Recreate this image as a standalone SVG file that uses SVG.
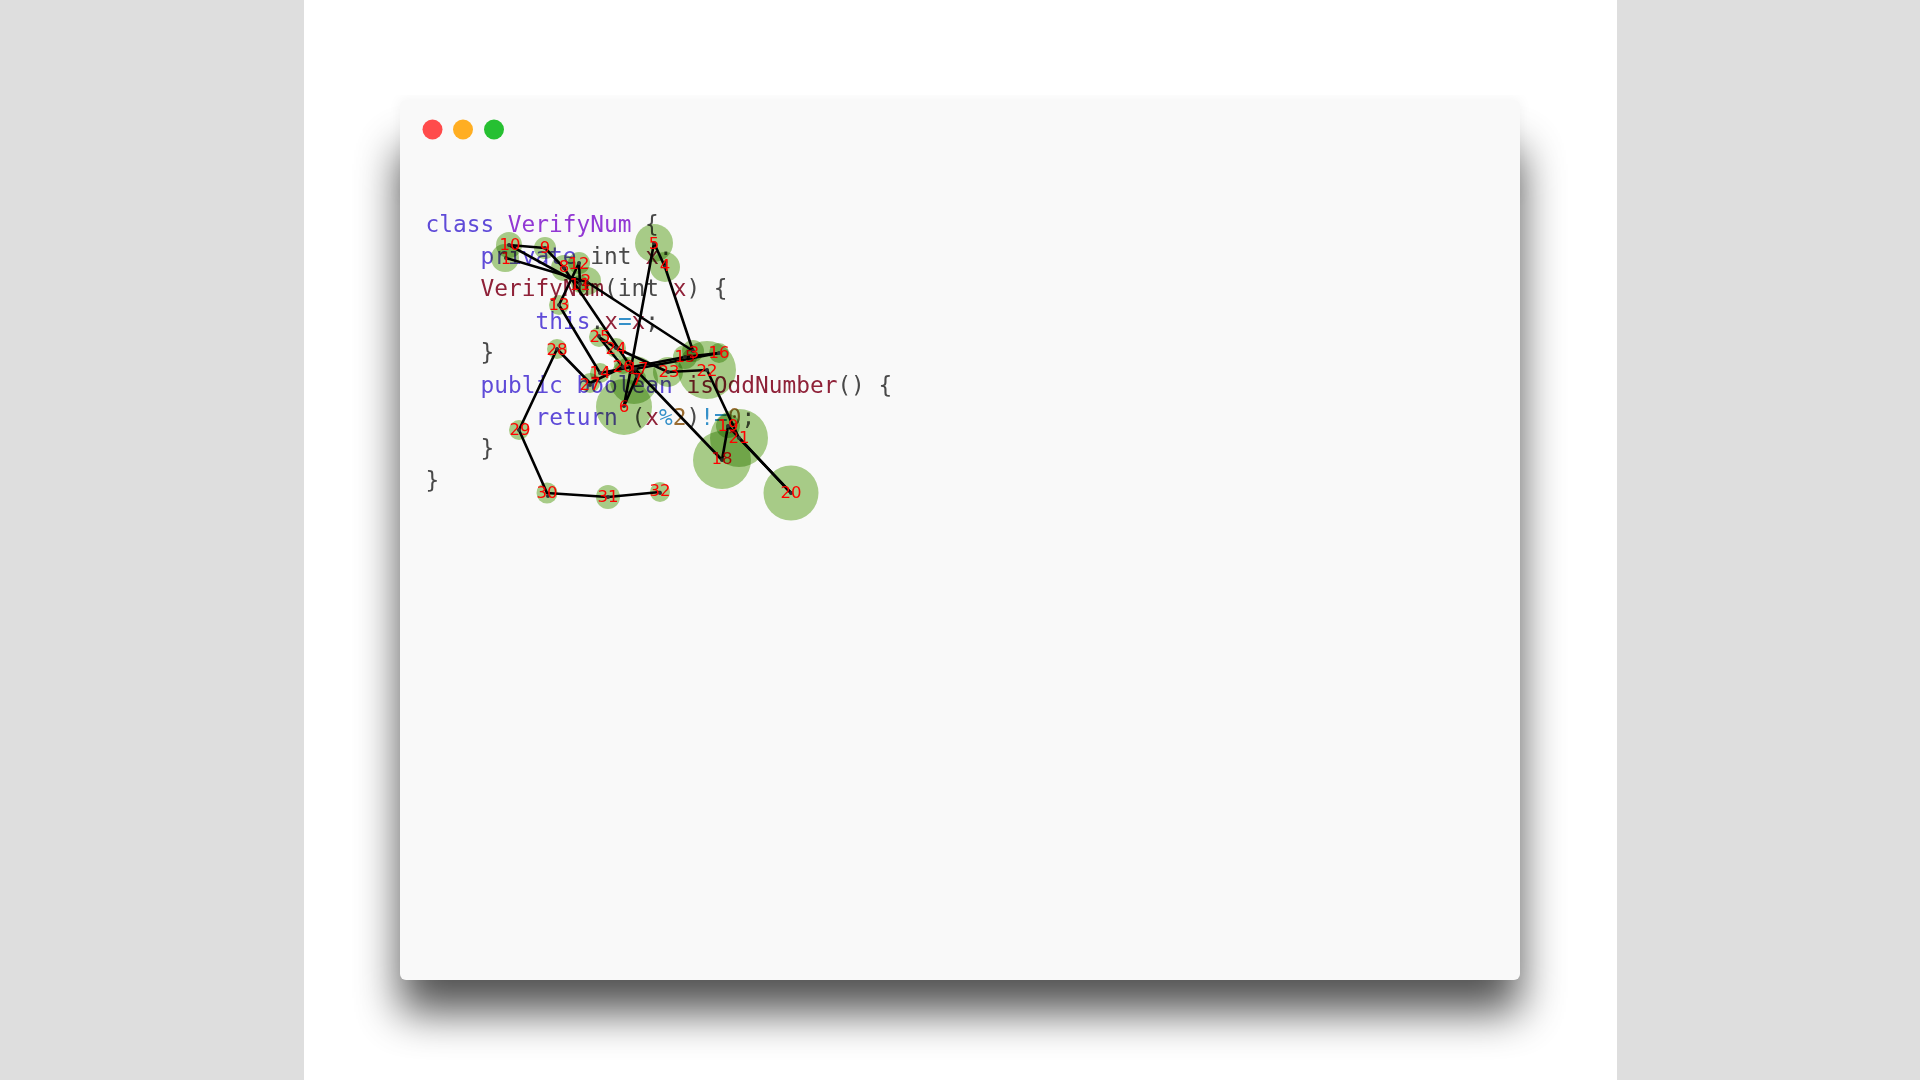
<svg xmlns="http://www.w3.org/2000/svg" width="1920" height="1080" viewBox="0 0 1920 1080">
<style>
.code{font-family:"DejaVu Sans Mono","Liberation Mono",monospace;font-size:22.8px;fill:#484848;white-space:pre}
.k{fill:#5f4bd8}.c{fill:#9238d4}.f{fill:#8f2038}.o{fill:#3490c9}.n{fill:#9a6c30}
.disc{fill:#abd08a;mix-blend-mode:multiply}
.dot{fill:#333}
.lab{font-family:"DejaVu Sans","Liberation Sans",sans-serif;font-size:16.5px;fill:#ff0000;text-anchor:middle}
#connectors line{stroke:#000;stroke-width:2.6;stroke-linecap:round}
</style>
<defs>
<filter id="sh" x="-20%" y="-20%" width="140%" height="140%"><feGaussianBlur stdDeviation="22"/></filter>
<filter id="halo" x="-5%" y="-5%" width="110%" height="110%"><feGaussianBlur stdDeviation="7"/></filter>
<filter id="soft" filterUnits="userSpaceOnUse" x="380" y="80" width="1160" height="920"><feGaussianBlur stdDeviation="0.35"/></filter>
</defs>
<rect width="1920" height="1080" fill="#dedede"/>
<rect x="304" width="1313" height="1080" fill="#fff"/>
<rect x="400" y="100" width="1120" height="100" fill="#000" opacity="0.05" filter="url(#halo)"/>
<rect x="400" y="150" width="1120" height="862" fill="#000" opacity="0.68" filter="url(#sh)"/>
<g id="window" filter="url(#soft)">
<rect x="400" y="100" width="1120" height="880" rx="6" fill="#f9f9f9"/>
<circle cx="432.500" cy="129.500" r="10" fill="#ff4b4b"/>
<circle cx="463" cy="129.500" r="10" fill="#ffae22"/>
<circle cx="494" cy="129.500" r="10" fill="#28c030"/>
<g id="code" class="code">
<text x="425.500" y="232"><tspan class="k">class</tspan> <tspan class="c">VerifyNum</tspan> {</text>
<text x="480.500" y="264"><tspan class="k">private</tspan> int <tspan class="f">x</tspan>;</text>
<text x="480.500" y="296"><tspan class="f">VerifyNum</tspan>(int <tspan class="f">x</tspan>) {</text>
<text x="535.500" y="328.500"><tspan class="k">this</tspan>.<tspan class="f">x</tspan><tspan class="o">=</tspan><tspan class="f">x</tspan>;</text>
<text x="480.500" y="360">}</text>
<text x="480.500" y="392.500"><tspan class="k">public</tspan> <tspan class="k">boolean</tspan> <tspan class="f">isOddNumber</tspan>() {</text>
<text x="535.500" y="424.500"><tspan class="k">return</tspan> (<tspan class="f">x</tspan><tspan class="o">%</tspan><tspan class="n">2</tspan>)<tspan class="o">!=</tspan><tspan class="n">0</tspan>;</text>
<text x="480.500" y="456">}</text>
<text x="425.500" y="488">}</text>
</g>
<g id="connectors">
<line x1="506" y1="258" x2="587" y2="282"/>
<line x1="587" y1="282" x2="693" y2="351"/>
<line x1="693" y1="351" x2="665" y2="267"/>
<line x1="665" y1="267" x2="654" y2="243"/>
<line x1="654" y1="243" x2="624" y2="406"/>
<line x1="624" y1="406" x2="637" y2="376"/>
<line x1="637" y1="376" x2="564" y2="268"/>
<line x1="564" y1="268" x2="545" y2="248"/>
<line x1="545" y1="248" x2="509" y2="245"/>
<line x1="509" y1="245" x2="580" y2="284"/>
<line x1="580" y1="284" x2="579" y2="263"/>
<line x1="579" y1="263" x2="559" y2="305"/>
<line x1="559" y1="305" x2="600" y2="373"/>
<line x1="600" y1="373" x2="685" y2="357"/>
<line x1="685" y1="357" x2="719" y2="353"/>
<line x1="719" y1="353" x2="635" y2="369"/>
<line x1="635" y1="369" x2="722" y2="460"/>
<line x1="722" y1="460" x2="728" y2="426"/>
<line x1="728" y1="426" x2="791" y2="493"/>
<line x1="791" y1="493" x2="739" y2="438"/>
<line x1="739" y1="438" x2="707" y2="370"/>
<line x1="707" y1="370" x2="668" y2="372"/>
<line x1="668" y1="372" x2="616" y2="348"/>
<line x1="616" y1="348" x2="599" y2="337"/>
<line x1="599" y1="337" x2="623" y2="367"/>
<line x1="623" y1="367" x2="590" y2="383"/>
<line x1="590" y1="383" x2="557" y2="349"/>
<line x1="557" y1="349" x2="519" y2="430"/>
<line x1="519" y1="430" x2="547" y2="493"/>
<line x1="547" y1="493" x2="608" y2="497"/>
<line x1="608" y1="497" x2="660" y2="492"/>
</g>
<g id="n22"><circle class="disc" cx="707" cy="370" r="29"/><circle class="dot" cx="707" cy="370" r="2"/><text class="lab" x="707" y="376">22</text></g>
<g id="n18"><circle class="disc" cx="722" cy="460" r="29"/><circle class="dot" cx="722" cy="460" r="2"/><text class="lab" x="722" y="464">18</text></g>
<g id="n21"><circle class="disc" cx="739" cy="438" r="29"/><circle class="dot" cx="739" cy="438" r="2"/><text class="lab" x="739" y="443">21</text></g>
<g id="n6"><circle class="disc" cx="624" cy="407" r="28"/><circle class="dot" cx="624" cy="406" r="2"/><text class="lab" x="624" y="412">6</text></g>
<g id="n20"><circle class="disc" cx="791" cy="493" r="27.500"/><circle class="dot" cx="791" cy="493" r="2"/><text class="lab" x="791" y="498">20</text></g>
<g id="n17"><circle class="disc" cx="634" cy="380" r="24"/><circle class="dot" cx="635" cy="369" r="2"/><text class="lab" x="638" y="374">17</text></g>
<g id="n5"><circle class="disc" cx="654" cy="243" r="19"/><circle class="dot" cx="654" cy="243" r="2"/><text class="lab" x="654" y="249">5</text></g>
<g id="n4"><circle class="disc" cx="665" cy="267" r="15"/><circle class="dot" cx="665" cy="267" r="2"/><text class="lab" x="665" y="271">4</text></g>
<g id="n23"><circle class="disc" cx="668" cy="372" r="15"/><circle class="dot" cx="668" cy="372" r="2"/><text class="lab" x="669" y="377">23</text></g>
<g id="n1"><circle class="disc" cx="505" cy="258" r="14"/><circle class="dot" cx="506" cy="258" r="2"/><text class="lab" x="506" y="264">1</text></g>
<g id="n2"><circle class="disc" cx="587" cy="281" r="14"/><circle class="dot" cx="587" cy="282" r="2"/><text class="lab" x="586" y="286">2</text></g>
<g id="n10"><circle class="disc" cx="509" cy="245" r="13"/><circle class="dot" cx="509" cy="245" r="2"/><text class="lab" x="510" y="250">10</text></g>
<g id="n8"><circle class="disc" cx="564" cy="268" r="13"/><circle class="dot" cx="564" cy="268" r="2"/><text class="lab" x="564" y="272">8</text></g>
<g id="n15"><circle class="disc" cx="685" cy="357" r="12"/><circle class="dot" cx="685" cy="357" r="2"/><text class="lab" x="685" y="362">15</text></g>
<g id="n19"><circle class="disc" cx="728" cy="426" r="12"/><circle class="dot" cx="728" cy="426" r="2"/><text class="lab" x="728" y="431">19</text></g>
<g id="n31"><circle class="disc" cx="608" cy="497" r="12"/><circle class="dot" cx="608" cy="497" r="2"/><text class="lab" x="608" y="502">31</text></g>
<g id="n12"><circle class="disc" cx="579" cy="263" r="11"/><circle class="dot" cx="579" cy="263" r="2"/><text class="lab" x="579" y="269">12</text></g>
<g id="n9"><circle class="disc" cx="545" cy="248" r="11"/><circle class="dot" cx="545" cy="248" r="2"/><text class="lab" x="545" y="253">9</text></g>
<g id="n3"><circle class="disc" cx="693" cy="351" r="11"/><circle class="dot" cx="693" cy="351" r="2"/><text class="lab" x="694" y="358">3</text></g>
<g id="n30"><circle class="disc" cx="547" cy="493" r="10.500"/><circle class="dot" cx="548" cy="496" r="2"/><text class="lab" x="547" y="498">30</text></g>
<g id="n16"><circle class="disc" cx="719" cy="353" r="10"/><circle class="dot" cx="719" cy="353" r="2"/><text class="lab" x="719" y="358">16</text></g>
<g id="n14"><circle class="disc" cx="600" cy="373" r="10"/><circle class="dot" cx="600" cy="373" r="2"/><text class="lab" x="600" y="378">14</text></g>
<g id="n27"><circle class="disc" cx="590" cy="383" r="10"/><circle class="dot" cx="590" cy="385" r="2"/><text class="lab" x="590" y="390">27</text></g>
<g id="n24"><circle class="disc" cx="616" cy="348" r="10"/><circle class="dot" cx="616" cy="348" r="2"/><text class="lab" x="616" y="354">24</text></g>
<g id="n25"><circle class="disc" cx="599" cy="337" r="10"/><circle class="dot" cx="599" cy="336" r="2"/><text class="lab" x="600" y="342">25</text></g>
<g id="n28"><circle class="disc" cx="557" cy="349" r="10"/><circle class="dot" cx="557" cy="349" r="2"/><text class="lab" x="557" y="355">28</text></g>
<g id="n13"><circle class="disc" cx="559" cy="305" r="10"/><circle class="dot" cx="559" cy="305" r="2"/><text class="lab" x="559" y="310">13</text></g>
<g id="n29"><circle class="disc" cx="519" cy="430" r="10"/><circle class="dot" cx="519" cy="430" r="2"/><text class="lab" x="520" y="435">29</text></g>
<g id="n32"><circle class="disc" cx="660" cy="492" r="10"/><circle class="dot" cx="660" cy="493" r="2"/><text class="lab" x="660" y="496">32</text></g>
<g id="n26"><circle class="disc" cx="623" cy="365" r="9"/><circle class="dot" cx="623" cy="367" r="2"/><text class="lab" x="623" y="372">26</text></g>
<g id="n7"><circle class="disc" cx="637" cy="378" r="9"/><circle class="dot" cx="637" cy="376" r="2"/><text class="lab" x="637" y="385">7</text></g>
<g id="n11"><circle class="disc" cx="580" cy="284" r="9"/><circle class="dot" cx="580" cy="284" r="2"/><text class="lab" x="580" y="290">11</text></g>
</g>
</svg>
